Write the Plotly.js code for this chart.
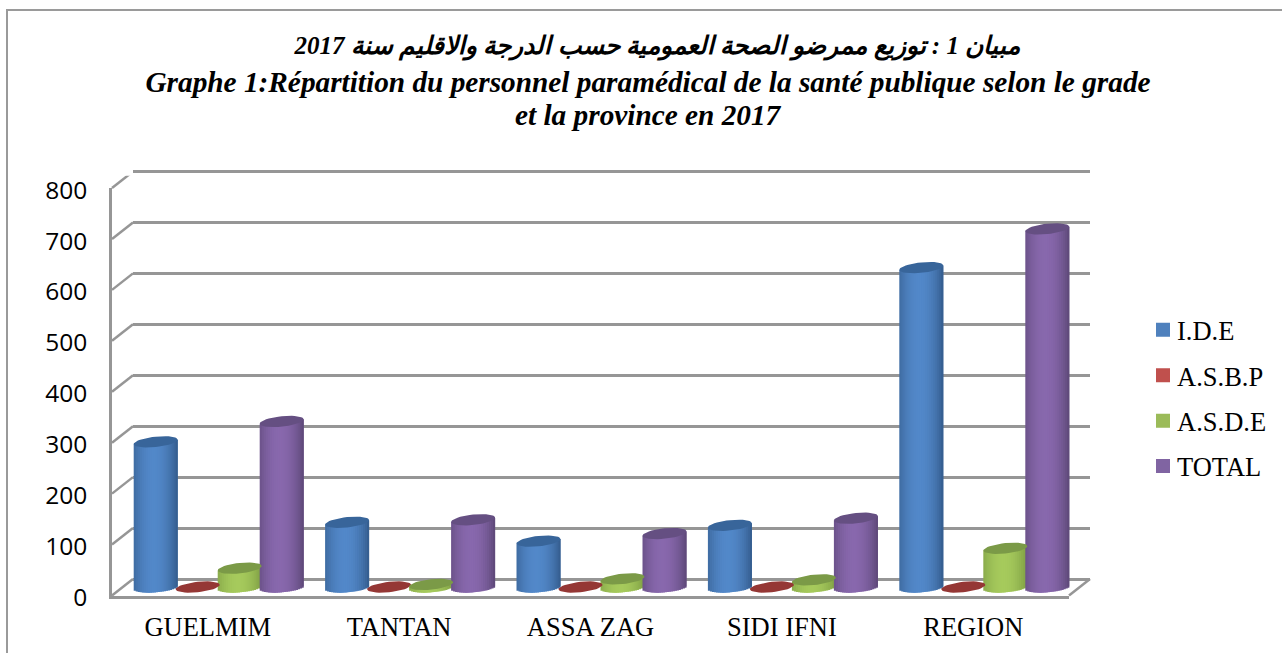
<!DOCTYPE html>
<html><head><meta charset="utf-8">
<script src="https://cdn.plot.ly/plotly-3.0.1.min.js"></script>
<style>html,body{margin:0;padding:0;background:#fff}#c{width:1282px;height:653px}
.legend .traces .legendpoints{transform:translateX(6px)}</style>
</head><body><div id="c"></div>
<script>
const categories = ["GUELMIM","TANTAN","ASSA ZAG","SIDI IFNI","REGION"];
const ide   = [285,127,90,121,627];
const asbp  = [0,0,0,0,0];
const asde  = [37,5,16,14,76];
const total = [325,132,105,135,703];
const seriesNames = ["I.D.E","A.S.B.P","A.S.D.E","TOTAL"];
const yTicks = [0,100,200,300,400,500,600,700,800];
const legendColors = ["#4f81bd","#c0504d","#9bbb59","#8064a2"];
const edgeColors  = ["#335a8a","#953735","#7a9a42","#5b4675"];
const midColors   = ["#5288c9","#953735","#a6ca5c","#8868ad"];
const capColors   = ["#38659a","#953735","#7b9a47","#654f82"];

const W=1282,H=653;
const fx=p=>p/W, fy=p=>1-p/H;
const pxY=407.5/800;                 // pixels per value unit
const catPx=191.4;
const barW=44/catPx, barStep=42/catPx;
const ea=barW/2, eb=5.2/pxY, es=2.2/pxY;   // cylinder ellipse (data units)
const nStrips=22;
const all=[ide,asbp,asde,total];
const xs=categories.map((_,i)=>i);
const pad=24;                         // value units kept beyond 0 and 800 so edge marks are not clipped
const dom=zero=>[fy(zero+pad*pxY),fy(zero-(800+pad)*pxY)];

function mix(a,b,k){const p=h=>[1,3,5].map(i=>parseInt(h.substr(i,2),16));const A=p(a),B=p(b);
  return 'rgb('+A.map((v,i)=>Math.round(v+(B[i]-v)*k)).join(',')+')';}

const traces=[];
// carriers so the front axes (tick labels) and the back wall gridlines are drawn
traces.push({type:'scatter',mode:'none',x:xs,y:total,xaxis:'x',yaxis:'y',showlegend:false,hoverinfo:'skip'});
traces.push({type:'scatter',mode:'none',x:xs,y:total,xaxis:'x2',yaxis:'y2',showlegend:false,hoverinfo:'skip'});

all.forEach((vals,s)=>{
  const centre=(s-1.5)*barStep;
  traces.push({type:'bar',name:seriesNames[s],x:xs,y:vals,offset:centre-0.01,width:0.02,
    xaxis:'x3',yaxis:'y3',legendgroup:seriesNames[s],
    marker:{color:legendColors[s],line:{color:legendColors[s],width:2}}});
  if(s!==1){
    for(let k=0;k<nStrips;k++){
      const t0=-1+2*k/nStrips,t1=-1+2*(k+1)/nStrips,t=(t0+t1)/2;
      const shade=Math.pow(Math.cos((t+0.1)*Math.PI/2/1.1),0.8);
      const base=vals.map(()=>-eb*Math.sqrt(Math.max(0,1-t*t))+es*t);
      const y=vals.map((v,i)=>v+es*t-base[i]);
      const wide=Math.min(1-t0,(t1-t0)*2.2);
      traces.push({type:'bar',x:xs,y:y,base:base,offset:centre+t0*ea,width:wide*ea,
        xaxis:'x3',yaxis:'y3',showlegend:false,hoverinfo:'skip',
        marker:{color:mix(edgeColors[s],midColors[s],Math.max(0,shade)),line:{width:0}}});
    }
  }
});
all.forEach((vals,s)=>{
  const centre=(s-1.5)*barStep;
  const ex=[],ey=[];
  vals.forEach((v,i)=>{
    for(let a=0;a<=40;a++){const th=a/40*2*Math.PI;
      ex.push(i+centre+ea*Math.cos(th));
      ey.push(v+es*Math.cos(th)+eb*Math.sin(th));}
    ex.push(null);ey.push(null);
  });
  traces.push({type:'scatter',mode:'lines',x:ex,y:ey,fill:'toself',fillcolor:capColors[s],
    line:{width:0,color:capColors[s]},xaxis:'x3',yaxis:'y3',showlegend:false,hoverinfo:'skip',cliponaxis:false});
});
// wall / floor connectors on a wider helper subplot so the top and right ones are not clipped
const dxC=21/catPx, dyC=16.5/pxY;
const cx=[],cy=[];
yTicks.forEach(v=>{cx.push(-0.5,-0.5+dxC,null);cy.push(v,v+dyC,null);});
cx.push(4.5,4.5+dxC);cy.push(0,dyC);
traces.push({type:'scatter',mode:'lines',x:cx,y:cy,xaxis:'x4',yaxis:'y4',
  line:{color:'#969696',width:2.5},showlegend:false,hoverinfo:'skip'});

const serif='"Liberation Serif","Times New Roman",serif';
const extra=0.15;
const layout={
  width:W,height:H,margin:{l:0,r:0,t:0,b:0},paper_bgcolor:'#fff',plot_bgcolor:'rgba(0,0,0,0)',
  barmode:'overlay',showlegend:true,
  title:{text:'<b><i><span style="font-size:25px">\u00A0\u00A0\u00A0مبيان 1 : توزيع ممرضو الصحة العمومية حسب الدرجة والاقليم سنة 2017</span><br>Graphe 1:Répartition du personnel paramédical de la santé publique selon le grade</i></b>',
    x:648/W,xanchor:'center',y:1-54/H,yanchor:'top',font:{family:serif,size:29.3,color:'#000'}},
  annotations:[{text:'<b><i>et la province en 2017</i></b>',xref:'paper',yref:'paper',x:648/W,y:fy(115),xanchor:'center',yanchor:'middle',
    showarrow:false,font:{family:serif,size:29.3,color:'#000'}}],
  legend:{x:1137/W,y:1-306/H,xanchor:'left',yanchor:'top',tracegroupgap:8,font:{family:serif,size:26.5,color:'#000'},
    bgcolor:'rgba(0,0,0,0)',itemclick:false,itemdoubleclick:false},
  xaxis:{domain:[fx(112),fx(1069)],range:[-0.5,4.5],anchor:'y',tickmode:'array',tickvals:xs,ticktext:categories,
    showgrid:false,zeroline:false,showline:true,linecolor:'#969696',linewidth:2.5,ticks:'',ticklabelstandoff:6,
    tickfont:{family:serif,size:26.5,color:'#000'}},
  yaxis:{domain:[fy(595.5),fy(188)],range:[0,800],anchor:'x',tickmode:'array',tickvals:yTicks,
    showgrid:false,zeroline:false,showline:true,linecolor:'#969696',linewidth:2.5,ticks:'',ticklabelstandoff:17,ticklabelshift:2,
    tickfont:{family:'"Open Sans",sans-serif',size:24.5,color:'#000'}},
  xaxis2:{domain:[fx(133),fx(1090)],range:[-0.5,4.5],anchor:'y2',visible:false},
  yaxis2:{domain:dom(579),range:[-pad,800+pad],anchor:'x2',tickmode:'array',tickvals:yTicks,
    showgrid:true,gridcolor:'#969696',gridwidth:2.5,zeroline:false,showline:false,showticklabels:false,ticks:''},
  xaxis3:{domain:[fx(123),fx(1080)],range:[-0.5,4.5],anchor:'y3',visible:false},
  yaxis3:{domain:dom(587),range:[-pad,800+pad],anchor:'x3',visible:false},
  xaxis4:{domain:[fx(112-extra*catPx),fx(1069+2*extra*catPx)],range:[-0.5-extra,4.5+2*extra],anchor:'y4',visible:false},
  yaxis4:{domain:dom(595.5),range:[-pad,800+pad],anchor:'x4',visible:false},
  shapes:[
    {type:'line',xref:'paper',yref:'paper',x0:fx(7),x1:fx(7),y0:0,y1:fy(10),line:{color:'#9a9a9a',width:2}},
    {type:'line',xref:'paper',yref:'paper',x0:fx(6),x1:fx(1282),y0:fy(10),y1:fy(10),line:{color:'#9a9a9a',width:2}}
  ]
};
Plotly.newPlot('c',traces,layout,{displayModeBar:false});
</script></body></html>
